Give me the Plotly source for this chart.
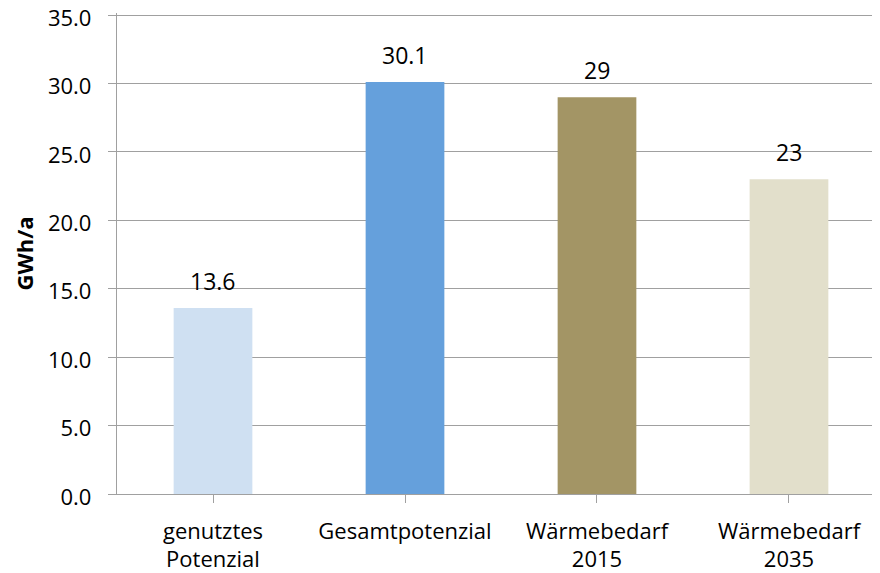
import plotly.graph_objects as go

categories = ["genutztes<br>Potenzial", "Gesamtpotenzial", "Wärmebedarf<br>2015", "Wärmebedarf<br>2035"]
values = [13.6, 30.1, 29, 23]
labels = ["13.6", "30.1", "29", "23"]
colors = ["#CFE0F2", "#65A0DC", "#A39565", "#E2DFCB"]
y_ticks = [0, 5, 10, 15, 20, 25, 30, 35]

FONT = "Open Sans"
xs = list(range(len(categories)))

fig = go.Figure(go.Bar(
    x=xs, y=values,
    marker=dict(color=colors, line=dict(width=0)),
    width=0.41,
))

for x, v, t in zip(xs, values, labels):
    fig.add_annotation(x=x, y=v, text=t, showarrow=False, yanchor="bottom",
                       yshift=9, font=dict(size=23, color="#000000", family=FONT))

fig.update_layout(
    width=880, height=573,
    margin=dict(l=109, r=8, t=5, b=87, pad=0),
    paper_bgcolor="white", plot_bgcolor="white",
    showlegend=False,
    font=dict(family=FONT, size=23, color="#000000"),
    xaxis=dict(
        tickmode="array", tickvals=xs, ticktext=categories,
        range=[-0.5, 3.474], tickson="boundaries", automargin=False,
        ticks="outside", ticklen=8, tickcolor="#A0A0A0", tickwidth=1.3,
        showgrid=False, showline=True, linecolor="#A0A0A0", linewidth=1.3,
        zeroline=False, tickfont=dict(size=22), ticklabelstandoff=9,
    ),
    yaxis=dict(
        range=[0, 35.15], tickvals=y_ticks, ticktext=[f"{v:.1f}" for v in y_ticks],
        ticks="outside", ticklen=8, tickcolor="#A0A0A0", tickwidth=1.3, automargin=False,
        showgrid=True, gridcolor="#A0A0A0", gridwidth=1.3,
        showline=True, linecolor="#A0A0A0", linewidth=1.3, zeroline=False,
        title=dict(text="<b>GWh/a</b>", font=dict(size=22), standoff=8),
        tickfont=dict(size=22), ticklabelstandoff=12, ticklabeloverflow="allow",
        ticklabelshift=3,
    ),
)

fig.write_html("out.html")
